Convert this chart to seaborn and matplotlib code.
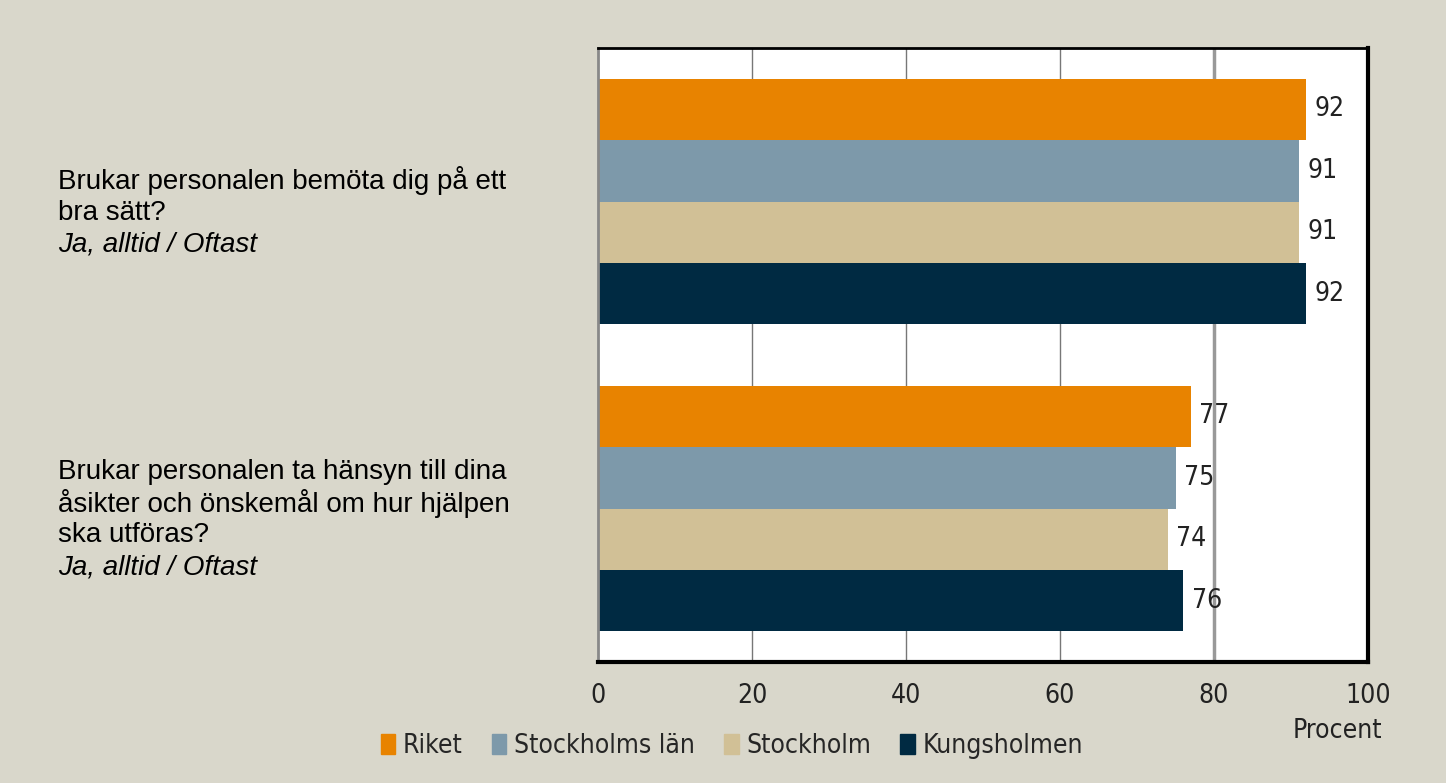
import pandas as pd
import numpy as np
import matplotlib
matplotlib.use("Agg")
import matplotlib.pyplot as plt
import seaborn as sns
from matplotlib.transforms import blended_transform_factory, ScaledTranslation

# Data
questions = [
    "Brukar personalen bemöta dig på ett\nbra sätt?",
    "Brukar personalen ta hänsyn till dina\nåsikter och önskemål om hur hjälpen\nska utföras?",
]
subtitles = ["Ja, alltid / Oftast", "Ja, alltid / Oftast"]
areas = ["Riket", "Stockholms län", "Stockholm", "Kungsholmen"]
values_q1 = [92, 91, 91, 92]
values_q2 = [77, 75, 74, 76]
colors = ["#E88300", "#7D99AA", "#D1C096", "#002A42"]
xticks = [0, 20, 40, 60, 80, 100]

df = pd.DataFrame({
    "fraga": [questions[0]] * 4 + [questions[1]] * 4,
    "omrade": areas * 2,
    "procent": values_q1 + values_q2,
})

bg = "#D9D7CB"
num_font = {"family": "DejaVu Sans", "stretch": "condensed", "size": 19}

sns.set_style("white")
plt.rcParams["font.family"] = ["Liberation Sans", "DejaVu Sans"]

fig = plt.figure(figsize=(14.46, 7.83), dpi=100, facecolor=bg)
ax = fig.add_axes([598 / 1446, 1 - 662 / 783, 770 / 1446, 614 / 783])
ax.set_facecolor("white")

sns.barplot(data=df, y="fraga", x="procent", hue="omrade", orient="h",
            palette=colors, width=0.8, saturation=1, legend=False,
            linewidth=0, ax=ax)

# grid lines
for t in xticks[1:-1]:
    ax.axvline(t, color="#999999" if t == 80 else "#777777",
               lw=2.5 if t == 80 else 1.0, zorder=0)

for c in ax.containers:
    ax.bar_label(c, fmt="%d", padding=6, color="#222222", **num_font)

ax.set_xlim(0, 100)
ax.set_ylim(1.5, -0.5)
ax.set_xticks(xticks)
ax.set_xticklabels([str(t) for t in xticks], color="#222222", **num_font)
ax.tick_params(axis="x", length=0, pad=15)
ax.set_yticks([])
ax.set_xlabel("")
ax.set_ylabel("")

for side in ["right", "bottom"]:
    ax.spines[side].set_color("black")
    ax.spines[side].set_linewidth(3)
ax.spines["top"].set_color("black")
ax.spines["top"].set_linewidth(2)
ax.spines["left"].set_color("#888888")
ax.spines["left"].set_linewidth(2)

# question labels on the left
trans = blended_transform_factory(fig.transFigure, ax.transData)
for i, (q, sub) in enumerate(zip(questions, subtitles)):
    lines = q.split("\n") + [sub]
    n = len(lines)
    for j, line in enumerate(lines):
        dy = ((n - 1) / 2 - j) * 0.318 - 0.11
        ax.text(58 / 1446, i, line, ha="left", va="center", fontsize=20,
                style="italic" if j == n - 1 else "normal", color="black",
                transform=trans + ScaledTranslation(0, dy, fig.dpi_scale_trans))

fig.text(1382 / 1446, 1 - 731 / 783, "Procent", ha="right", va="center",
         color="#222222", **num_font)

handles = [plt.Rectangle((0, 0), 1, 1, color=c) for c in colors]
fig.legend(handles, areas, loc="center", bbox_to_anchor=(732 / 1446, 1 - 746 / 783),
           ncol=4, frameon=False, handlelength=0.55, handleheight=0.8,
           handletextpad=0.3, columnspacing=1.1, prop=num_font)

fig.savefig("out.png", dpi=100, facecolor=bg)
